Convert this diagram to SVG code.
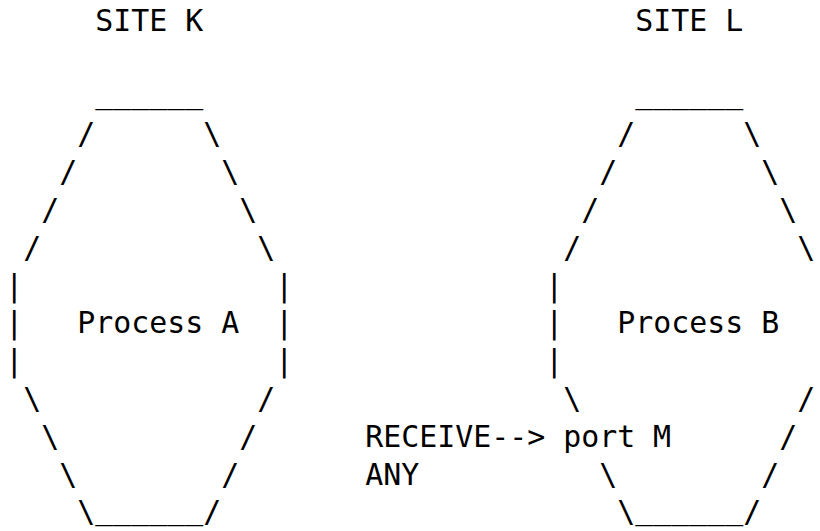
<svg xmlns="http://www.w3.org/2000/svg" width="820" height="531" viewBox="0 0 820 531">
<style>
text { font-family: "DejaVu Sans Mono", monospace; font-size: 29.9px; fill: #000; white-space: pre; }
</style>
<rect x="0" y="0" width="820" height="531" fill="#fff"/>
<g id="site-k">
<text x="95.2" y="31">SITE K</text>
<text x="95.2" y="103.4">______</text>
<text x="77.2" y="144.4">/</text><text x="203.2" y="144.4">\</text>
<text x="59.2" y="182.2">/</text><text x="221.2" y="182.2">\</text>
<text x="41.2" y="220">/</text><text x="239.2" y="220">\</text>
<text x="23.2" y="257.8">/</text><text x="257.2" y="257.8">\</text>
<text x="5.2" y="295.6">|</text><text x="275.2" y="295.6">|</text>
<text x="5.2" y="333.4">|</text><text x="77.2" y="333.4">Process A</text><text x="275.2" y="333.4">|</text>
<text x="5.2" y="371.2">|</text><text x="275.2" y="371.2">|</text>
<text x="23.2" y="409">\</text><text x="257.2" y="409">/</text>
<text x="41.2" y="446.8">\</text><text x="239.2" y="446.8">/</text>
<text x="59.2" y="484.6">\</text><text x="221.2" y="484.6">/</text>
<text x="77.2" y="522.4">\</text><text x="95.2" y="519">______</text><text x="203.2" y="522.4">/</text>
</g>
<g id="site-l">
<text x="635.2" y="31">SITE L</text>
<text x="635.2" y="103.4">______</text>
<text x="617.2" y="144.4">/</text><text x="743.2" y="144.4">\</text>
<text x="599.2" y="182.2">/</text><text x="761.2" y="182.2">\</text>
<text x="581.2" y="220">/</text><text x="779.2" y="220">\</text>
<text x="563.2" y="257.8">/</text><text x="797.2" y="257.8">\</text>
<text x="545.2" y="295.6">|</text>
<text x="545.2" y="333.4">|</text><text x="617.2" y="333.4">Process B</text>
<text x="545.2" y="371.2">|</text>
<text x="563.2" y="409">\</text><text x="797.2" y="409">/</text>
<text x="779.2" y="446.8">/</text>
<text x="599.2" y="484.6">\</text><text x="761.2" y="484.6">/</text>
<text x="617.2" y="522.4">\</text><text x="635.2" y="519">______</text><text x="743.2" y="522.4">/</text>
</g>
<g id="connectors">
<text x="365.2" y="446.8">RECEIVE--&gt; port M</text>
<text x="365.2" y="484.6">ANY</text>
</g>
</svg>
